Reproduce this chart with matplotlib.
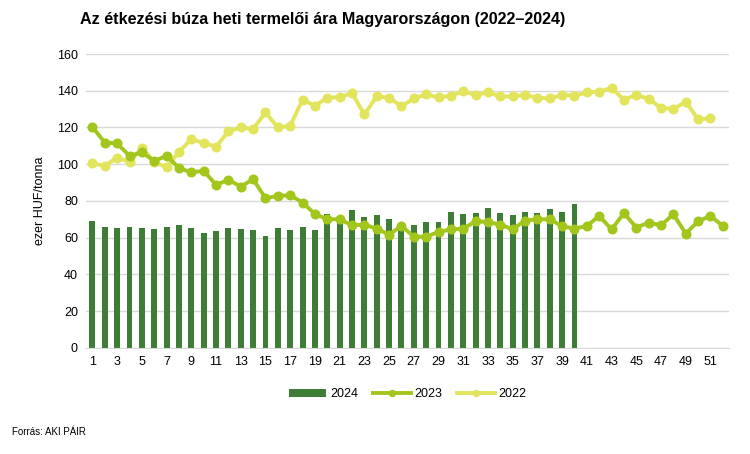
import matplotlib
matplotlib.use("Agg")
import matplotlib.pyplot as plt
import numpy as np

plt.rcParams["font.family"] = ["Liberation Sans", "DejaVu Sans"]

weeks_2024 = list(range(1, 41))
prices_2024 = [69, 66, 65.5, 66, 65.5, 64.5, 66, 67, 65, 62.5, 63.5, 65.5, 64.5, 64, 61, 65, 64, 66, 64, 73,
               71, 75.3, 71, 72.4, 70.4, 67, 66.7, 68.4, 68.4, 73.8, 72.7, 73.3, 76.2, 73.5, 72.5, 74, 73.5, 75.6,
               74.2, 78.4]

weeks_2023 = list(range(1, 53))
prices_2023 = [120.2, 111.8, 111.3, 104.5, 106.4, 101.8, 104.5, 98, 95.5, 96.4, 88.7, 91.5, 87.8, 91.8, 81.5,
               82.7, 83.1, 79.1, 72.9, 70, 70, 66.7, 67.1, 64.9, 61.6, 66.4, 60.5, 60.5, 63.1, 64.5, 64.9, 68.9,
               68.5, 67.1, 64.5, 69.3, 70, 70, 66.2, 64.9, 66.4, 71.8, 64.5, 73.3, 65.5, 68.2, 66.7, 72.7, 62.2,
               68.9, 71.8, 66.4]

weeks_2022 = list(range(1, 52))
prices_2022 = [100.5, 99.1, 103.6, 101.3, 108.9, 101.3, 98.2, 106.7, 113.6, 111.5, 109.6, 117.8, 120, 119.1,
               128.2, 120, 120.9, 135.1, 131.8, 136.3, 136.4, 138.7, 127.1, 136.9, 136.2, 131.5, 135.8, 138,
               136.4, 137.3, 139.6, 137.8, 139.1, 136.9, 136.9, 137.8, 136.2, 135.8, 137.7, 137.3, 139.1, 139.5,
               141.5, 135.1, 137.8, 135.5, 130.7, 130, 134, 124.5, 124.9]

fig, ax = plt.subplots(figsize=(7.5, 4.54), dpi=100)
fig.subplots_adjust(left=0.115, right=0.972, top=0.881, bottom=0.234)

bars = ax.bar(weeks_2024, prices_2024, width=0.48, color="#3d7d35", label="2024", zorder=2)
line23, = ax.plot(weeks_2023, prices_2023, color="#a3c61c", lw=2.8, marker="o", ms=6.2, label="2023", zorder=4)
line22, = ax.plot(weeks_2022, prices_2022, color="#e2e55c", lw=2.8, marker="o", ms=6.2, label="2022", zorder=3)

ax.set_xlim(0.5, 52.5)
ax.set_ylim(0, 160)
ax.set_yticks(np.arange(0, 161, 20))
ax.set_xticks(range(1, 53, 2))
ax.tick_params(axis="both", length=0, labelsize=9, pad=6)
ax.grid(axis="y", color="#d9d9d9", lw=1, zorder=0)
ax.set_axisbelow(True)
for side in ["top", "right", "left"]:
    ax.spines[side].set_visible(False)
ax.spines["bottom"].set_color("#d9d9d9")

ax.set_ylabel("ezer HUF/tonna", fontsize=9, labelpad=8)
fig.text(0.107, 0.957, "Az étkezési búza heti termelői ára Magyarországon (2022–2024)",
         fontsize=11.6, fontweight="bold", ha="left", va="center")
fig.text(0.016, 0.048, "Forrás: AKI PÁIR", fontsize=7, ha="left", va="center")

ax.legend(handles=[bars, line23, line22], loc="upper center", bbox_to_anchor=(0.5, -0.1), ncol=3,
          frameon=False, fontsize=9, handlelength=3, columnspacing=1.2, handletextpad=0.3, markerscale=0.7)

fig.savefig("out.png", dpi=100)
